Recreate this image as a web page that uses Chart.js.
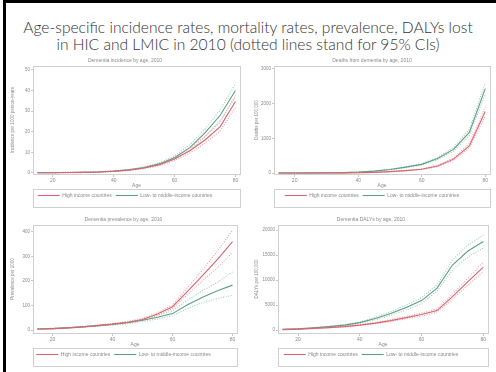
<!DOCTYPE html>
<html>
<head>
<meta charset="utf-8">
<script src="https://cdn.jsdelivr.net/npm/chart.js@4.4.1/dist/chart.umd.min.js"></script>
<style>
  html, body { margin: 0; padding: 0; background: #fff; }
  body { width: 496px; height: 372px; position: relative; overflow: hidden; }
  #frame { position: absolute; left: 3px; top: 0; width: 493px; height: 372px;
           border-left: 3px solid #000; border-top: 3px solid #000; box-sizing: border-box; }
  #title { position: absolute; left: 0; top: 19px; width: 496px; text-align: center;
           font-family: Lato, "Open Sans", sans-serif; font-weight: 300; font-size: 15.6px;
           line-height: 17px; color: #333; }
  .panel { position: absolute; }
</style>
</head>
<body>
<div id="frame"></div>
<div id="title">Age-specific incidence rates, mortality rates, prevalence, DALYs lost<br>in HIC and LMIC in 2010 (dotted lines stand for 95% CIs)</div>
<div class="panel" style="left:8px; top:56px; width:234px; height:154px;"><canvas id="c1"></canvas></div>
<div class="panel" style="left:252px; top:56px; width:240px; height:154px;"><canvas id="c2"></canvas></div>
<div class="panel" style="left:8px; top:215px; width:231px; height:154px;"><canvas id="c3"></canvas></div>
<div class="panel" style="left:252px; top:215px; width:238px; height:154px;"><canvas id="c4"></canvas></div>
<script>
// ---- data ----
const ages = [15, 20, 25, 30, 35, 40, 45, 50, 55, 60, 65, 70, 75, 80];
const xTicks = [20, 40, 60, 80];
const seriesNames = ["High income countries", "Low- to middle-income countries"];

// Incidence per 1000
const incTicks = [0, 10, 20, 30, 40, 50];
const incHigh   = [0.1, 0.1, 0.2, 0.3, 0.5, 0.8, 1.4, 2.4, 4.0, 6.8, 10.8, 16.0, 22.5, 34.7];
const incHighLo = [0.1, 0.1, 0.1, 0.2, 0.4, 0.7, 1.2, 2.1, 3.5, 6.0, 9.6, 14.4, 20.4, 31.8];
const incHighHi = [0.2, 0.2, 0.3, 0.4, 0.6, 1.0, 1.6, 2.7, 4.5, 7.6, 12.0, 17.7, 24.7, 37.8];
const incLow    = [0.1, 0.1, 0.2, 0.3, 0.5, 0.9, 1.5, 2.6, 4.4, 7.4, 12.3, 19.5, 28.0, 40.0];
const incLowLo  = [0.1, 0.1, 0.1, 0.2, 0.4, 0.7, 1.3, 2.3, 3.9, 6.6, 11.0, 17.6, 25.5, 36.8];
const incLowHi  = [0.2, 0.2, 0.3, 0.4, 0.6, 1.0, 1.7, 2.9, 4.9, 8.2, 13.6, 21.4, 30.6, 43.3];

// Deaths per 100,000
const dthTicks = [0, 1000, 2000, 3000];
const dthHigh   = [0, 0, 1, 2, 4, 8, 18, 40, 70, 110, 200, 400, 780, 1770];
const dthHighLo = [0, 0, 1, 2, 3, 7, 16, 36, 64, 100, 182, 366, 715, 1640];
const dthHighHi = [0, 1, 2, 3, 5, 9, 20, 44, 77, 121, 218, 436, 848, 1905];
const dthLow    = [1, 2, 3, 6, 12, 25, 55, 100, 170, 250, 420, 680, 1170, 2430];
const dthLowLo  = [1, 2, 3, 5, 11, 23, 50, 92, 156, 230, 388, 628, 1085, 2270];
const dthLowHi  = [1, 2, 4, 7, 13, 27, 60, 108, 184, 270, 454, 734, 1260, 2600];

// Prevalence per 1000
const prvTicks = [0, 100, 200, 300, 400];
const prvHigh   = [4, 6, 9, 13, 18, 24, 32, 43, 65, 95, 158, 222, 288, 360];
const prvHighLo = [3, 5, 8, 12, 16, 22, 29, 39, 59, 88, 145, 200, 255, 316];
const prvHighHi = [5, 7, 10, 14, 20, 26, 35, 47, 71, 102, 172, 245, 322, 407];
const prvLow    = [4, 6, 9, 13, 18, 23, 30, 40, 52, 67, 103, 134, 160, 183];
const prvLowLo  = [3, 5, 8, 12, 16, 20, 26, 35, 45, 58, 88, 112, 128, 142];
const prvLowHi  = [5, 7, 10, 14, 20, 26, 34, 45, 60, 78, 122, 160, 195, 237];

// DALYs per 100,000
const dalyTicks = [0, 5000, 10000, 15000, 20000];
const dalyHigh   = [100, 200, 350, 500, 700, 1000, 1400, 1900, 2500, 3100, 3900, 6700, 9700, 12600];
const dalyHighLo = [90, 180, 310, 450, 630, 900, 1260, 1700, 2250, 2800, 3600, 6200, 9000, 11700];
const dalyHighHi = [110, 220, 390, 550, 770, 1100, 1540, 2100, 2750, 3400, 4200, 7200, 10400, 13600];
const dalyLow    = [150, 250, 450, 700, 1000, 1500, 2300, 3300, 4500, 5900, 8400, 13000, 15800, 17700];
const dalyLowLo  = [130, 220, 400, 620, 890, 1340, 2050, 2950, 4000, 5300, 7800, 12000, 14600, 16400];
const dalyLowHi  = [170, 280, 500, 780, 1110, 1660, 2550, 3650, 5000, 6500, 9000, 14000, 17000, 19000];

// ---- styling ----
const RED = '#d9646f', RED_L = '#eba4ab';
const GRN = '#5e9e86', GRN_L = '#a3cbb9';
const TXT = '#8a8a8a';
const SMALL = { family: 'Liberation Sans, Arial, sans-serif', size: 5, weight: 'normal' };
const TINY = { family: 'Liberation Sans, Arial, sans-serif', size: 4.5, weight: 'normal' };

const frameAndLegendBox = {
  id: 'frameAndLegendBox',
  afterDraw(chart) {
    const { ctx, chartArea: a, legend } = chart;
    ctx.save();
    ctx.strokeStyle = '#d0d0d0';
    ctx.lineWidth = 1;
    ctx.strokeRect(Math.round(a.left) + 0.5, Math.round(a.top) + 0.5,
                   Math.round(a.right - a.left), Math.round(a.bottom - a.top));
    if (legend) {
      ctx.strokeRect(Math.round(a.left) + 0.5, Math.round(legend.top) + 0.5,
                     Math.round(a.right - a.left), Math.round(legend.height) - 1);
    }
    ctx.restore();
  }
};

function line(data, color, dotted) {
  return {
    data: ages.map((a, i) => ({ x: a, y: data[i] })),
    borderColor: color, backgroundColor: color,
    borderWidth: 1.1, pointRadius: 0, tension: 0,
    borderDash: dotted ? [1, 1.5] : []
  };
}

function makePanel(id, yAxisWidth, title, yTitle, ticks, yMin, yMax, hi, hiLo, hiHi, lo, loLo, loHi) {
  const ds = [
    Object.assign(line(hi, RED, false), { label: seriesNames[0] }),
    Object.assign(line(lo, GRN, false), { label: seriesNames[1] }),
    Object.assign(line(hiLo, RED_L, true), { label: 'HIC lower' }),
    Object.assign(line(hiHi, RED_L, true), { label: 'HIC upper' }),
    Object.assign(line(loLo, GRN_L, true), { label: 'LMIC lower' }),
    Object.assign(line(loHi, GRN_L, true), { label: 'LMIC upper' })
  ];
  new Chart(document.getElementById(id), {
    type: 'line',
    data: { datasets: ds },
    plugins: [frameAndLegendBox],
    options: {
      responsive: true, maintainAspectRatio: false, animation: false,
      layout: { padding: { left: 2, right: 2, top: 0, bottom: 2 } },
      plugins: {
        tooltip: { enabled: false },
        title: { display: true, text: title, color: TXT, font: SMALL, padding: { top: 2, bottom: 2 } },
        legend: {
          display: true, position: 'bottom',
          labels: {
            filter: item => item.datasetIndex < 2,
            usePointStyle: true, pointStyle: 'line', pointStyleWidth: 22,
            boxWidth: 22, boxHeight: 4, color: TXT, font: SMALL, padding: 4
          }
        }
      },
      scales: {
        x: {
          type: 'linear', min: 13.5, max: 81.5,
          afterBuildTicks: s => { s.ticks = xTicks.map(v => ({ value: v })); },
          afterFit: s => { s.height = 15; },
          grid: { drawOnChartArea: false, drawTicks: true, tickLength: 3, color: '#c8c8c8' },
          border: { display: false },
          ticks: { color: TXT, font: SMALL, padding: 1, maxRotation: 0, callback: v => String(v) },
          title: { display: true, text: 'Age', color: TXT, font: SMALL, padding: { top: -1, bottom: 0 } }
        },
        y: {
          type: 'linear', min: yMin, max: yMax,
          afterBuildTicks: s => { s.ticks = ticks.map(v => ({ value: v })); },
          afterFit: s => { s.width = yAxisWidth; },
          grid: { drawOnChartArea: false, drawTicks: true, tickLength: 2, color: '#c8c8c8' },
          border: { display: false },
          ticks: { color: TXT, font: TINY, padding: 1, callback: v => String(v) },
          title: { display: true, text: yTitle, color: TXT, font: TINY, padding: { top: 0, bottom: 0 } }
        }
      }
    }
  });
}

makePanel('c1', 23, 'Dementia incidence by age, 2010', 'Incidence per 1000 person-years', incTicks, -0.5, 51.9,
  incHigh, incHighLo, incHighHi, incLow, incLowLo, incLowHi);
makePanel('c2', 20, 'Deaths from dementia by age, 2010', 'Deaths per 100,000', dthTicks, -28, 3083,
  dthHigh, dthHighLo, dthHighHi, dthLow, dthLowLo, dthLowHi);
makePanel('c3', 23, 'Dementia prevalence by age, 2010', 'Prevalence per 1000', prvTicks, -12, 428,
  prvHigh, prvHighLo, prvHighHi, prvLow, prvLowLo, prvLowHi);
makePanel('c4', 24, 'Dementia DALYs by age, 2010', 'DALYs per 100,000', dalyTicks, -580, 21000,
  dalyHigh, dalyHighLo, dalyHighHi, dalyLow, dalyLowLo, dalyLowHi);
</script>
</body>
</html>
